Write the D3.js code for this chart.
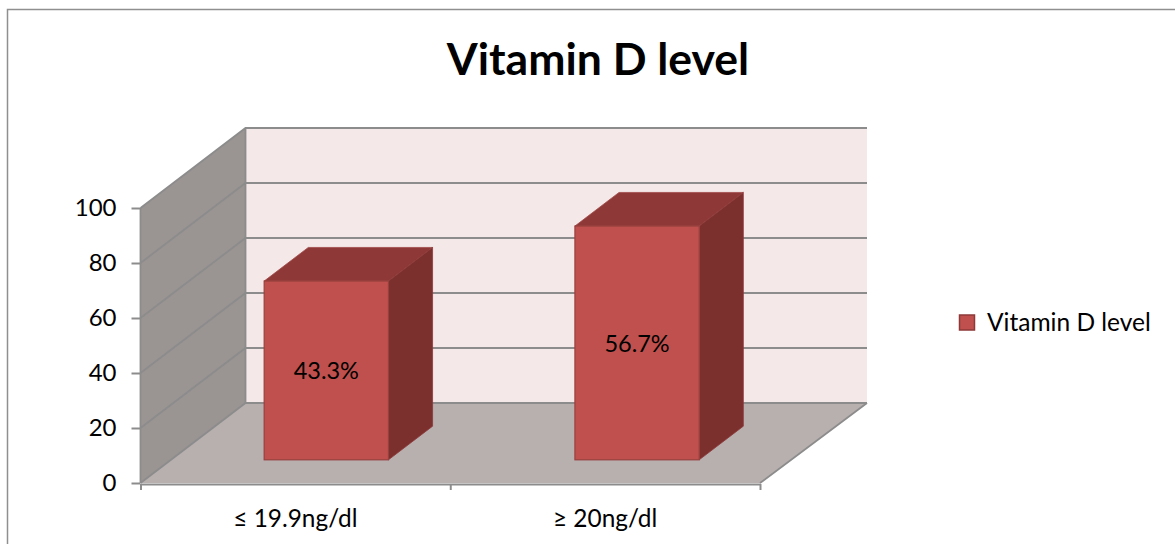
<!DOCTYPE html>
<html>
<head>
  <meta charset="UTF-8">
  <script src="https://d3js.org/d3.v7.min.js"></script>
  <style>
    body { margin: 0; background: #fff; }
    svg { display: block; }
    text { font-family: Lato, "Open Sans", sans-serif; fill: #000; }
    .axis text { font-size: 24px; }
    .axis line, .axis path { stroke: #8c8c8c; stroke-width: 2px; }
  </style>
</head>
<body>
  <svg width="1175" height="544" id="chart"></svg>

  <script>
    // values (bar heights follow the y axis, labels are what the chart prints)
    const chartTitle = "Vitamin D level";
    const seriesName = "Vitamin D level";
    const categories = ["≤ 19.9ng/dl", "≥ 20ng/dl"];
    const barValues = [65, 85];
    const barLabels = ["43.3%", "56.7%"];
    const yTicks = [0, 20, 40, 60, 80, 100];

    const svg = d3.select("#chart");

    // front plane of the 3d box
    const plotLeft = 140.5, plotRight = 760, plotBottom = 483, plotTop = 208;
    // how far the back wall is shifted from the front plane
    const depthX = 105, depthY = -80;
    // bars stand at this fraction of the depth and take up this fraction of it
    const barStart = 0.29, barDepth = 0.42;

    const x = d3.scaleBand().domain(categories).range([plotLeft, plotRight + 2])
      .paddingInner(0.6).paddingOuter(0.3);
    const xCenter = d3.scalePoint().domain(categories).range([plotLeft, plotRight]).padding(0.5);
    const y = d3.scaleLinear().domain([0, 100]).range([plotBottom, plotTop]);

    const poly = pts => pts.map(p => p.join(",")).join(" ");

    // outer frame, runs off the right and bottom of the picture
    svg.append("path")
      .attr("d", "M7.5,544V9.5H1175")
      .attr("fill", "none").attr("stroke", "#8f8f8f").attr("stroke-width", 1.5);

    // title
    svg.append("text").attr("x", 598).attr("y", 75)
      .attr("text-anchor", "middle")
      .attr("font-size", 44.5).attr("font-weight", 700)
      .text(chartTitle);

    // walls and floor
    svg.append("polygon")
      .attr("points", poly([[plotLeft + depthX, y(100) + depthY], [plotRight + depthX + 2, y(100) + depthY],
        [plotRight + depthX + 2, y(0) + depthY], [plotLeft + depthX, y(0) + depthY]]))
      .attr("fill", "#f4e8e8");
    svg.append("polygon")
      .attr("points", poly([[plotLeft, y(0)], [plotLeft, y(100)], [plotLeft + depthX, y(100) + depthY], [plotLeft + depthX, y(0) + depthY]]))
      .attr("fill", "#9a9493");
    svg.append("polygon")
      .attr("points", poly([[plotLeft, y(0)], [plotLeft + depthX, y(0) + depthY], [plotRight + depthX + 2, y(0) + depthY], [plotRight, y(0)]]))
      .attr("fill", "#b8afaf");

    // gridlines, side wall then back wall
    const grid = svg.append("g").attr("fill", "none").attr("stroke", "#8c8c8c").attr("stroke-width", 1.8);
    grid.selectAll("path").data(yTicks).enter().append("path")
      .attr("d", d => `M${plotLeft},${y(d)}L${plotLeft + depthX},${y(d) + depthY}H${plotRight + depthX + 2}`);

    // edges of the box
    svg.append("path")
      .attr("d", `M${plotLeft},${y(0)}L${plotLeft},${y(100)}M${plotLeft + depthX},${y(0) + depthY}V${y(100) + depthY}M${plotRight},${y(0)}L${plotRight + depthX + 2},${y(0) + depthY}`)
      .attr("fill", "none").attr("stroke", "#8c8c8c").attr("stroke-width", 1.8);

    // axes
    const yAxis = d3.axisLeft(y).tickValues(yTicks).tickSize(9).tickPadding(15).tickSizeOuter(0);
    svg.append("g").attr("class", "axis")
      .attr("transform", `translate(${plotLeft},0)`)
      .call(yAxis)
      .call(g => g.select(".domain").remove());

    const xAxis = d3.axisBottom(d3.scaleLinear().domain([0, 2]).range([plotLeft, plotRight]))
      .tickValues([0, 1, 2]).tickSize(6).tickFormat("").tickSizeOuter(0);
    svg.append("g").attr("class", "axis")
      .attr("transform", `translate(0,${plotBottom + 1})`)
      .call(xAxis);

    svg.append("g").attr("class", "axis").selectAll("text")
      .data(categories).enter().append("text")
      .attr("x", d => xCenter(d))
      .attr("y", 527)
      .attr("text-anchor", "middle")
      .style("font-size", "24.4px")
      .text(d => d);

    // bars: front, top and side faces
    const bars = svg.selectAll(".bar")
      .data(categories.map((c, i) => ({ c, v: barValues[i], label: barLabels[i] })))
      .enter().append("g").attr("class", "bar");

    const fx = barStart * depthX, fy = barStart * depthY;
    const bx = barDepth * depthX, by = barDepth * depthY;

    bars.append("polygon") // top
      .attr("points", d => {
        const x0 = x(d.c) + fx, x1 = x0 + x.bandwidth(), yt = y(d.v) + fy;
        return poly([[x0, yt], [x0 + bx, yt + by], [x1 + bx, yt + by], [x1, yt]]);
      })
      .attr("fill", "#8e3938").attr("stroke", "#a04a49").attr("stroke-width", 0.8);
    bars.append("polygon") // side
      .attr("points", d => {
        const x1 = x(d.c) + fx + x.bandwidth(), yt = y(d.v) + fy, yb = y(0) + fy;
        return poly([[x1, yt], [x1 + bx, yt + by], [x1 + bx, yb + by], [x1, yb]]);
      })
      .attr("fill", "#7c302e").attr("stroke", "#8e3938").attr("stroke-width", 0.8);
    bars.append("rect") // front
      .attr("x", d => x(d.c) + fx)
      .attr("y", d => y(d.v) + fy)
      .attr("width", x.bandwidth())
      .attr("height", d => y(0) - y(d.v))
      .attr("fill", "#c0504d").attr("stroke", "#98403d").attr("stroke-width", 1.2);

    bars.append("text")
      .attr("x", d => x(d.c) + fx + x.bandwidth() / 2)
      .attr("y", d => (y(d.v) + y(0)) / 2 + fy + 9)
      .attr("text-anchor", "middle")
      .attr("font-size", 23.5)
      .text(d => d.label);

    // legend
    svg.append("rect")
      .attr("x", 959.5).attr("y", 315).attr("width", 15).attr("height", 15)
      .attr("fill", "#c0504d").attr("stroke", "#8e3938").attr("stroke-width", 1.5);
    svg.append("text").attr("x", 987).attr("y", 331)
      .attr("font-size", 24.5)
      .text(seriesName);
  </script>
</body>
</html>
